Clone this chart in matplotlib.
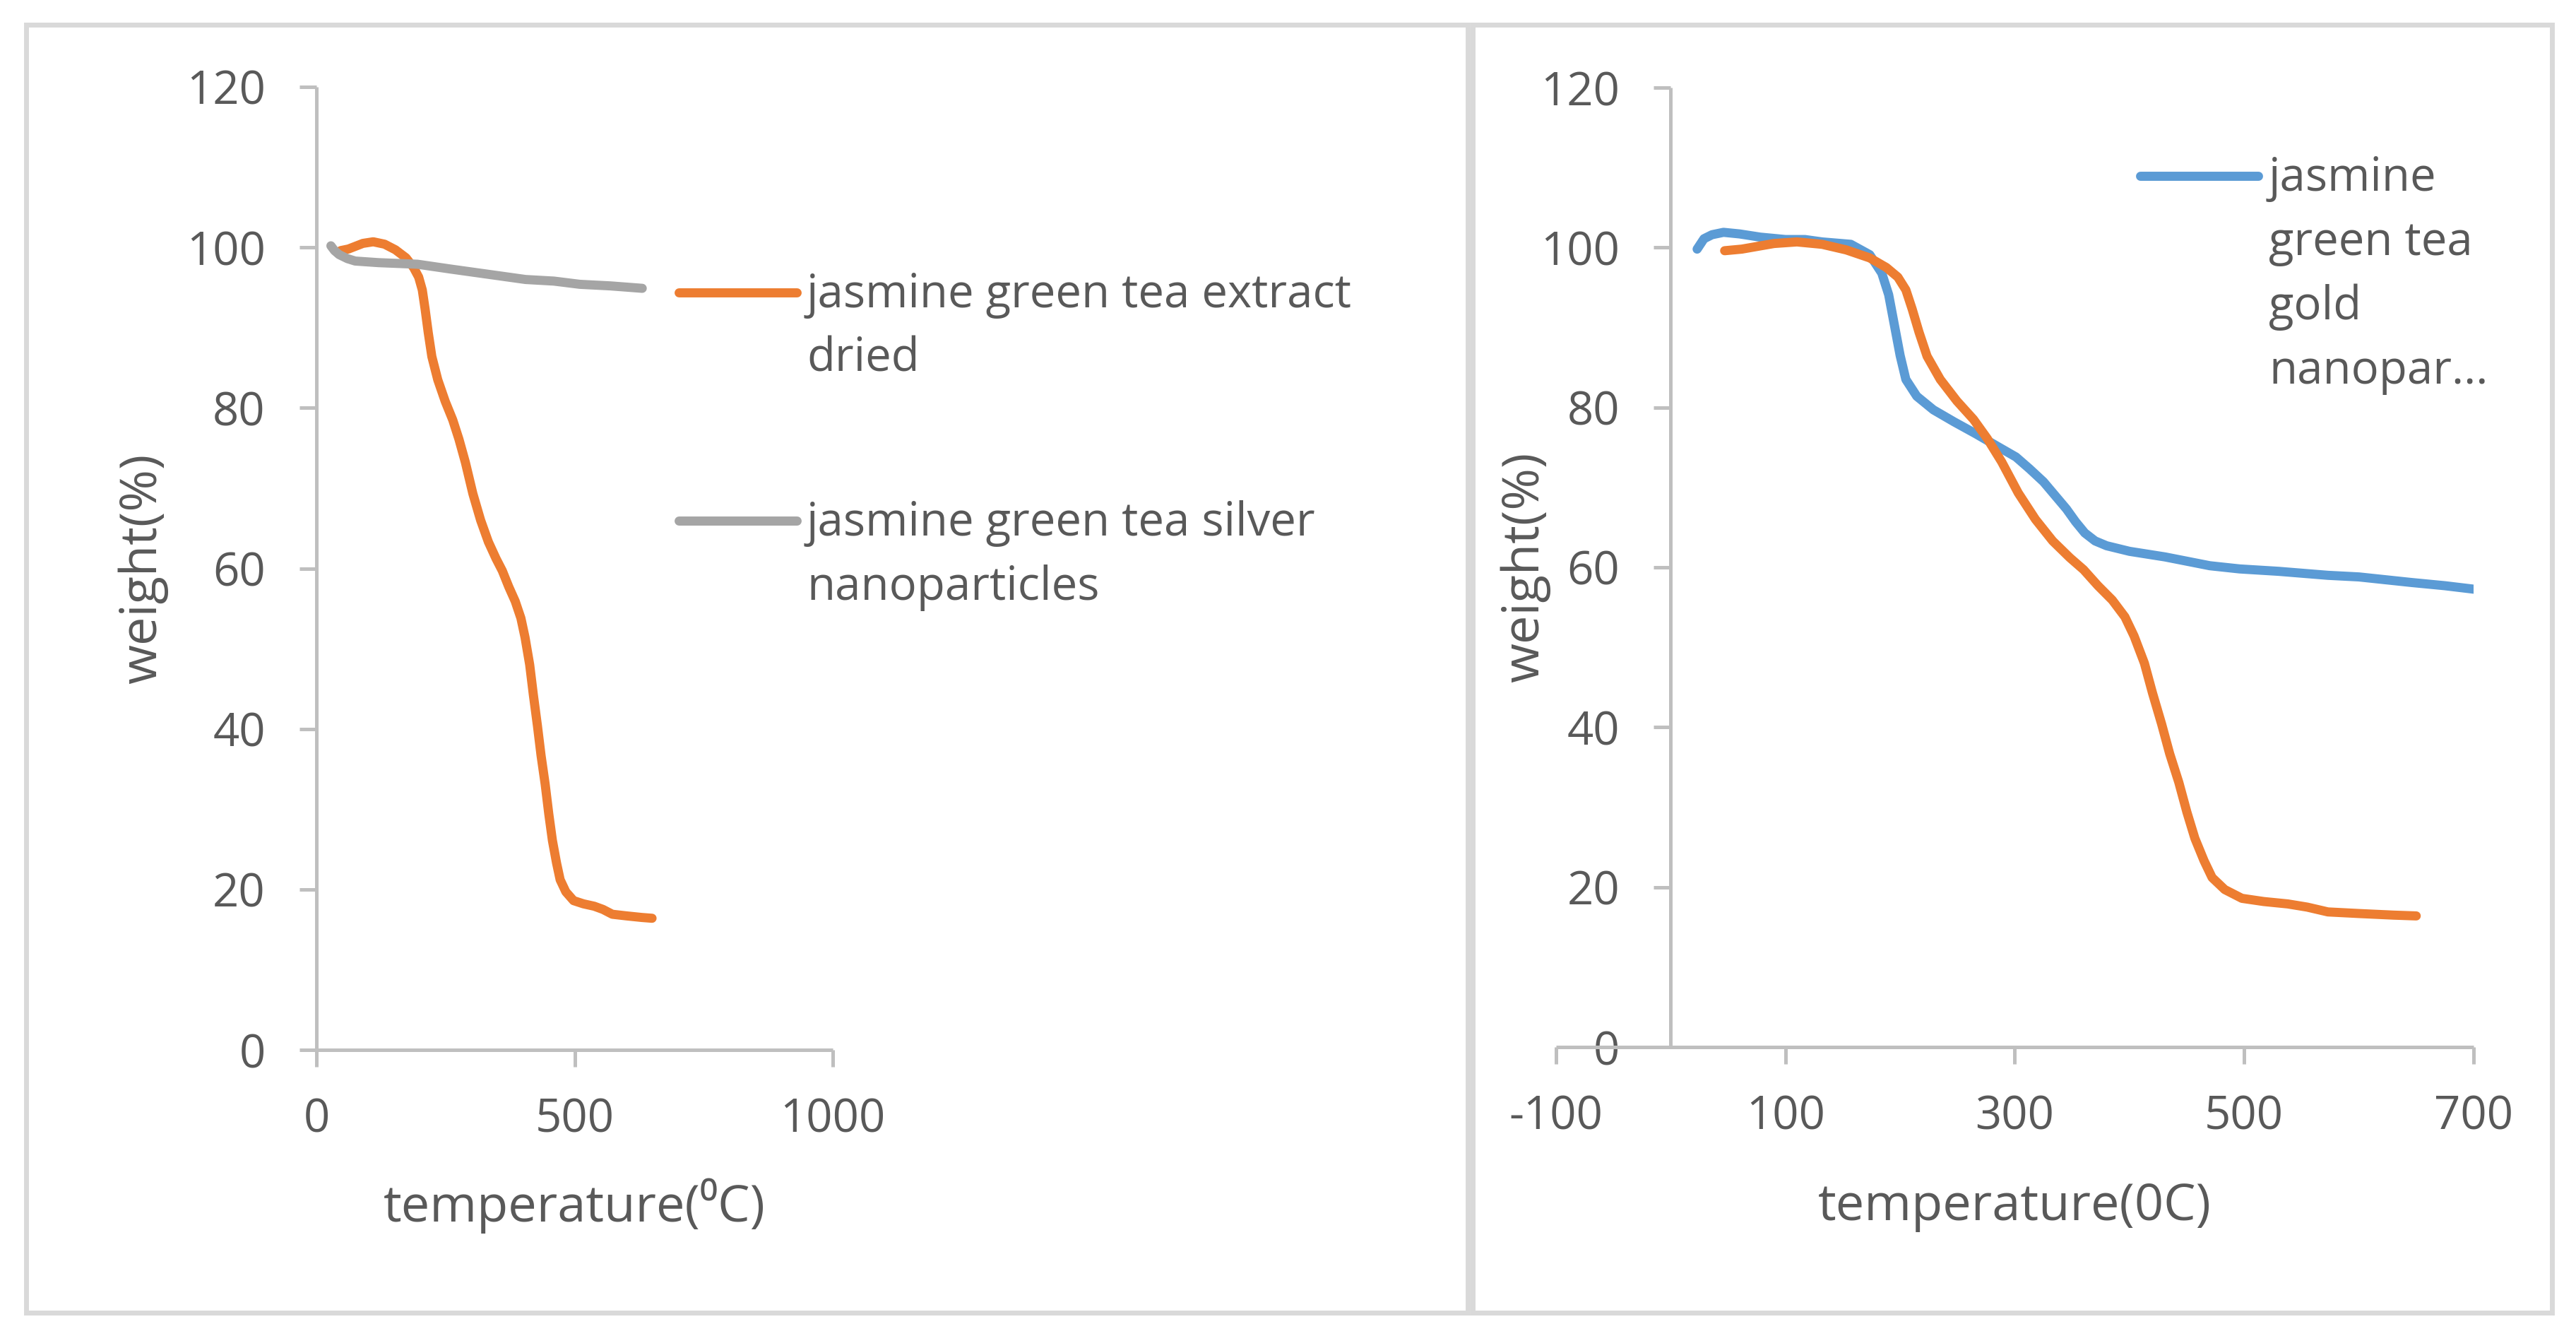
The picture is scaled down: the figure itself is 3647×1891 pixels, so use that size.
import matplotlib
matplotlib.use("Agg")
import matplotlib.pyplot as plt
from matplotlib.lines import Line2D
from matplotlib.patches import Rectangle

plt.rcParams['font.family'] = ['Open Sans', 'DejaVu Sans']
plt.rcParams['axes.unicode_minus'] = False

W, H = 3648, 1891
TXT = '#595959'
AXC = '#BFBFBF'
ORANGE = '#ED7D31'
GREY = '#A5A5A5'
BLUE = '#5B9BD5'

# extract dried (same sample in both panels)
extract_temp = [47, 62, 90, 110, 132, 153, 173.5, 188, 198, 205, 210.5, 216.5, 223.5, 235,
                249.5, 264, 276, 288.5, 303, 318, 333, 348, 360, 372.5, 385, 396, 404, 413,
                420, 428, 435, 443, 450, 457, 465, 472, 483, 498, 517, 538, 555, 573, 600,
                630, 650]
extract_weight = [99.6, 99.8, 100.5, 100.7, 100.4, 99.7, 98.7, 97.5, 96.3, 94.7, 92.3, 89.4,
                  86.4, 83.5, 80.8, 78.5, 76.1, 73.2, 69.3, 66.0, 63.3, 61.2, 59.7, 57.7, 55.9,
                  53.8, 51.4, 48.0, 44.3, 40.4, 36.7, 33.1, 29.4, 26.1, 23.3, 21.2, 19.7, 18.6,
                  18.2, 17.9, 17.5, 16.9, 16.7, 16.5, 16.4]

# silver nanoparticles
silver_temp = [28, 35, 44, 60, 75, 120, 196, 260, 327, 405, 460, 510, 570, 631]
silver_weight = [100.2, 99.6, 99.1, 98.6, 98.3, 98.1, 97.9, 97.3, 96.7, 96.0, 95.8, 95.4, 95.2, 94.9]

# gold nanoparticles
gold_temp = [23, 29, 36, 46, 60, 78, 100, 117, 132, 157, 173.5, 184, 190, 195, 200, 205, 214.5,
             229, 247, 266, 284, 301, 313, 325, 335, 345, 353, 361, 370, 380, 400, 431, 470,
             496, 530, 573, 600, 646, 675, 704]
gold_weight = [99.8, 101.1, 101.6, 101.9, 101.7, 101.3, 101.0, 101.0, 100.7, 100.4, 99.1, 96.8,
               94.1, 90.3, 86.5, 83.5, 81.4, 79.7, 78.2, 76.7, 75.2, 73.8, 72.3, 70.7, 69.0,
               67.3, 65.7, 64.3, 63.3, 62.7, 62.0, 61.3, 60.2, 59.8, 59.5, 59.0, 58.8, 58.1,
               57.7, 57.2]

left_labels = [['jasmine green tea extract', 'dried'], ['jasmine green tea silver', 'nanoparticles']]
right_labels = [['jasmine', 'green tea', 'gold', 'nanopar...']]

left_xticks = [0, 500, 1000]
right_xticks = [-100, 100, 300, 500, 700]
yticks = [0, 20, 40, 60, 80, 100, 120]


def fx(x):
    return x / W


def fy(y):
    return 1 - y / H


fig = plt.figure(figsize=(W / 100, H / 100), dpi=100)

# panel frames
for x0, x1 in [(37, 2078), (2085, 3613)]:
    fig.add_artist(Rectangle((fx(x0), fy(1858)), fx(x1) - fx(x0), fy(35) - fy(1858),
                             transform=fig.transFigure, fill=False, ec='#D9D9D9', lw=5))

ax1 = fig.add_axes([fx(448), fy(1486), fx(1179) - fx(448), fy(123) - fy(1486)])
ax2 = fig.add_axes([fx(2203), fy(1482), fx(3502) - fx(2203), fy(124) - fy(1482)])

lw = 9.3
style = dict(lw=lw, solid_capstyle='round', solid_joinstyle='round')
ax1.plot(extract_temp, extract_weight, color=ORANGE, **style)
ax1.plot(silver_temp, silver_weight, color=GREY, **style)
ax2.plot(gold_temp, gold_weight, color=BLUE, **style)
ax2.plot(extract_temp, extract_weight, color=ORANGE, **style)

ax1.set_xlim(0, 1000)
ax2.set_xlim(-100, 700)
ax2.spines['left'].set_position(('data', 0))

for ax, xt in [(ax1, left_xticks), (ax2, right_xticks)]:
    ax.set_ylim(0, 120)
    ax.set_xticks(xt)
    ax.set_yticks(yticks)
    ax.spines['top'].set_visible(False)
    ax.spines['right'].set_visible(False)
    for s in ['left', 'bottom']:
        ax.spines[s].set_color(AXC)
        ax.spines[s].set_linewidth(3.6)
        ax.spines[s].set_capstyle('butt')
    ax.tick_params(axis='both', colors=AXC, labelcolor=TXT, labelsize=47, length=17, width=3.6)
    ax.tick_params(axis='y', pad=35)
    ax.tick_params(axis='x', pad=31)
    ax.patch.set_alpha(0)

ax1.set_xlabel('temperature(\u2070C)', fontsize=52, color=TXT, va='center')
ax1.xaxis.set_label_coords(0.5, (1486 - 1707) / (1486 - 123))
ax2.set_xlabel('temperature(0C)', fontsize=52, color=TXT, va='center')
ax2.xaxis.set_label_coords(0.5, (1482 - 1708) / (1482 - 124))

ax1.set_ylabel('weight(%)', fontsize=52, color=TXT, va='center')
ax1.yaxis.set_label_coords((202 - 448) / (1179 - 448), 0.5)
ax2.set_ylabel('weight(%)', fontsize=52, color=TXT, va='center')
ax2.yaxis.set_label_coords((2159 - 2203) / (3502 - 2203), 0.5)

# legends: marker line, then one text line per row (baseline positions in px)
legend_items = [
    (left_labels[0], ORANGE, 961, 1128, 414, 1142),
    (left_labels[1], GREY, 961, 1128, 737, 1142),
    (right_labels[0], BLUE, 3030, 3197, 249, 3212),
]
for rows, col, lx0, lx1, ly, tx in legend_items:
    fig.add_artist(Line2D([fx(lx0), fx(lx1)], [fy(ly), fy(ly)], transform=fig.transFigure,
                          color=col, lw=lw, solid_capstyle='round'))
    for i, row in enumerate(rows):
        fig.text(fx(tx), fy(ly + 21 + 91 * i), row, fontsize=47, color=TXT,
                 ha='left', va='baseline')

fig.savefig('out.png', dpi=100)
